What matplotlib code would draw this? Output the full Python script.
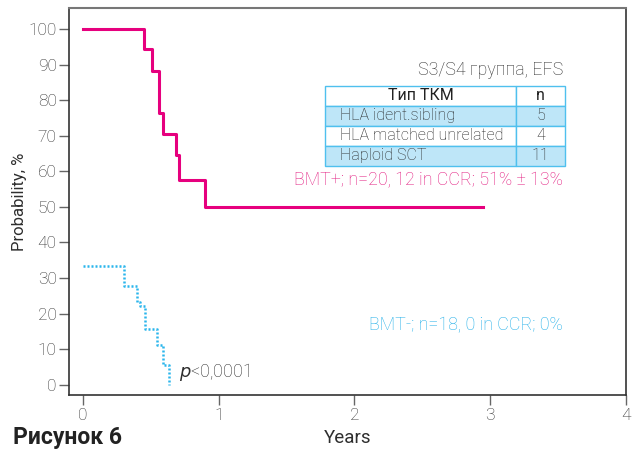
import matplotlib.pyplot as plt

plt.rcParams['font.family'] = ['Roboto', 'DejaVu Sans']
plt.rcParams['font.weight'] = 'light'

# BMT+ curve (years, %)
bmt_pos_t = [0, 0.45, 0.51, 0.557, 0.59, 0.685, 0.707, 0.90, 2.95]
bmt_pos_s = [100, 94.4, 88.2, 76.5, 70.6, 64.7, 57.6, 50, 50]

# BMT- curve
bmt_neg_t = [0, 0.30, 0.40, 0.42, 0.46, 0.548, 0.59, 0.636]
bmt_neg_s = [33.3, 27.8, 23.3, 22.2, 15.6, 11.1, 5.6, 0]

table_cols = ['Тип ТКМ', 'n']
table_rows = [['HLA ident.sibling', '5'],
              ['HLA matched unrelated', '4'],
              ['Haploid SCT', '11']]

x_ticks = [0, 1, 2, 3, 4]
y_ticks = [0, 10, 20, 30, 40, 50, 60, 70, 80, 90, 100]

pink = '#E6007E'
blue = '#29B5EC'
grey = '#2e2e2e'

fig = plt.figure(figsize=(6.32, 4.5), dpi=100)
ax = fig.add_axes([0.1092, 0.1222, 0.8813, 0.86])

ax.step(bmt_pos_t, bmt_pos_s, where='post', color=pink, lw=2.2)
ax.step(bmt_neg_t, bmt_neg_s, where='post', color=blue, lw=1.8,
        linestyle=(0, (0.8, 0.8)))

ax.set_xlim(-0.103, 4.0)
ax.set_ylim(-2.9, 105.9)
ax.set_xticks(x_ticks)
ax.set_yticks(y_ticks)
ax.tick_params(direction='out', length=7, width=1, color='#666666',
               labelsize=12.5, labelcolor=grey, pad=2)

for side in ['left', 'bottom', 'right']:
    ax.spines[side].set_color('#333333')
    ax.spines[side].set_linewidth(1.2)
ax.spines['top'].set_color('#777777')
ax.spines['top'].set_linewidth(1.5)

ax.set_ylabel('Probability, %', fontsize=12, color=grey, labelpad=1)
ax.set_xlabel('Years', fontsize=13.5, color=grey, labelpad=5)

ax.text(0.887, 0.84, 'S3/S4 группа, EFS', transform=ax.transAxes,
        ha='right', va='center', fontsize=12.9, color=grey)
ax.text(0.887, 0.556, 'BMT+; n=20, 12 in CCR; 51% ± 13%', transform=ax.transAxes,
        ha='right', va='center', fontsize=12.9, color='#E2197F')
ax.text(0.887, 0.181, 'BMT-; n=18, 0 in CCR; 0%', transform=ax.transAxes,
        ha='right', va='center', fontsize=12.9, color='#1FAEE8')
ax.text(0.707, 3.5, '$\\it{p}$<0,0001', ha='left', va='center',
        fontsize=12.9, color=grey)

tbl = ax.table(cellText=table_rows, colLabels=table_cols,
               cellLoc='center', colWidths=[0.796, 0.204],
               bbox=[0.4596, 0.592, 0.431, 0.207])
tbl.auto_set_font_size(False)
tbl.set_fontsize(11.5)
for (r, c), cell in tbl.get_celld().items():
    cell.set_edgecolor('#4FC0EE')
    cell.set_linewidth(1.0)
    cell.get_text().set_color('#222222')
    if r in (1, 3):
        cell.set_facecolor('#BEE6F8')
    else:
        cell.set_facecolor('white')
    if r == 0:
        cell.get_text().set_fontweight('normal')
    if c == 0 and r > 0:
        cell.get_text().set_ha('left')
        cell.PAD = 0.08

fig.text(0.02, 0.002, 'Рисунок 6', fontsize=16.5, fontweight='bold',
         color='#222222', ha='left', va='bottom')

fig.savefig('out.png', dpi=100)
